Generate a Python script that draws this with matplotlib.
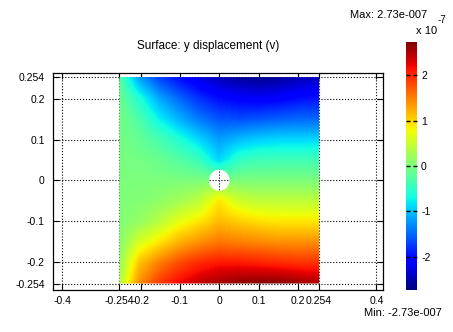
import numpy as np
import matplotlib
matplotlib.use('Agg')
from matplotlib import pyplot as plt
from matplotlib.path import Path
from matplotlib.patches import PathPatch

plt.rcParams['font.family'] = ['Liberation Sans', 'DejaVu Sans']
plt.rcParams['axes.unicode_minus'] = False

# Plate geometry (m)
half = 0.254
hole_r = 0.026

# y displacement sampled on an 11x11 grid (units of 1e-7 m), rows from top (y=+0.254) to bottom
x_nodes = np.linspace(-half, half, 11)
y_nodes = np.linspace(half, -half, 11)
v_rows = [
    [-0.20, -1.20, -1.70, -2.00, -2.25, -2.45, -2.60, -2.65, -2.60, -2.50, -2.40],
    [-0.10, -0.60, -1.15, -1.50, -1.80, -2.00, -2.10, -2.15, -2.10, -2.00, -1.95],
    [-0.05, -0.30, -0.75, -1.10, -1.40, -1.60, -1.65, -1.60, -1.55, -1.50, -1.50],
    [-0.03, -0.15, -0.35, -0.60, -0.90, -1.20, -1.05, -0.95, -0.90, -0.90, -0.90],
    [-0.02, -0.05, -0.12, -0.25, -0.45, -0.90, -0.50, -0.40, -0.40, -0.40, -0.40],
    [0.00, 0.00, 0.00, 0.00, 0.00, 0.00, 0.00, 0.00, 0.00, 0.00, 0.00],
    [0.02, 0.05, 0.12, 0.25, 0.45, 0.90, 0.55, 0.45, 0.45, 0.45, 0.45],
    [0.03, 0.15, 0.40, 0.70, 0.90, 1.15, 1.05, 0.95, 0.90, 0.90, 0.90],
    [0.05, 0.60, 0.90, 1.20, 1.40, 1.55, 1.50, 1.45, 1.40, 1.40, 1.40],
    [0.15, 1.10, 1.50, 1.80, 2.00, 2.10, 2.10, 2.05, 2.00, 1.95, 1.95],
    [0.30, 1.40, 1.90, 2.20, 2.40, 2.55, 2.65, 2.70, 2.70, 2.60, 2.50],
]
v_min, v_max = -2.73, 2.73
x_ticks = [-0.4, -0.254, -0.2, -0.1, 0, 0.1, 0.2, 0.254, 0.4]
y_ticks = [-0.254, -0.2, -0.1, 0, 0.1, 0.2, 0.254]
cb_ticks = [-2, -1, 0, 1, 2]

V = np.array(v_rows)
dx = x_nodes[1] - x_nodes[0]
dy = y_nodes[0] - y_nodes[1]

fig = plt.figure(figsize=(4.53, 3.32), dpi=100)
ax = fig.add_axes([0.117, 0.1265, 0.728, 0.6535])

im = ax.imshow(V, cmap='jet', vmin=v_min, vmax=v_max, aspect='auto',
               interpolation='bilinear', interpolation_stage='data',
               extent=[x_nodes[0] - dx / 2, x_nodes[-1] + dx / 2,
                       y_nodes[-1] - dy / 2, y_nodes[0] + dy / 2],
               zorder=1)

# plate outline with the hole cut out
t = np.linspace(0, -2 * np.pi, 120)
rect = [(-half, -half), (half, -half), (half, half), (-half, half), (-half, -half)]
circ = list(zip(hole_r * np.cos(t), hole_r * np.sin(t)))
codes = [Path.MOVETO] + [Path.LINETO] * 3 + [Path.CLOSEPOLY] \
    + [Path.MOVETO] + [Path.LINETO] * (len(circ) - 2) + [Path.CLOSEPOLY]
clip = PathPatch(Path(rect + circ, codes), transform=ax.transData)
im.set_clip_path(clip)

ax.set_xlim(-0.423, 0.416)
ax.set_ylim(-0.270, 0.264)
ax.set_xticks(x_ticks)
ax.set_xticklabels(['-0.4', '-0.254', '-0.2', '-0.1', '0', '0.1', '0.2', '0.254', '0.4'])
ax.set_yticks(y_ticks)
ax.set_yticklabels(['-0.254', '-0.2', '-0.1', '0', '0.1', '0.2', '0.254'])
ax.set_axisbelow(True)
ax.grid(True, linestyle=':', color='k', linewidth=0.8)
ax.tick_params(direction='in', length=4, top=True, right=True, labelsize=7.5)
ax.tick_params(axis='x', pad=4)
ax.tick_params(axis='y', pad=6)
for s in ax.spines.values():
    s.set_linewidth(0.9)

fig.text(208 / 453, 0.86, 'Surface: y displacement (v)', ha='center', va='center', fontsize=8.5)

cax = fig.add_axes([0.896, 0.1265, 0.0243, 0.747])
cb = fig.colorbar(im, cax=cax, ticks=cb_ticks)
cb.outline.set_visible(False)
cax.tick_params(direction='in', left=True, right=True, length=3, width=1, labelsize=7.5, pad=3)

fig.text(427 / 453, 1 - 15 / 332, 'Max: 2.73e-007', ha='right', va='center', fontsize=8)
fig.text(442 / 453, 1 - 313 / 332, 'Min: -2.73e-007', ha='right', va='center', fontsize=8)
fig.text(416 / 453, 1 - 31 / 332, 'x 10', ha='left', va='center', fontsize=8)
fig.text(438 / 453, 1 - 20 / 332, '-7', ha='left', va='center', fontsize=7)

fig.savefig('out.png', dpi=100)
